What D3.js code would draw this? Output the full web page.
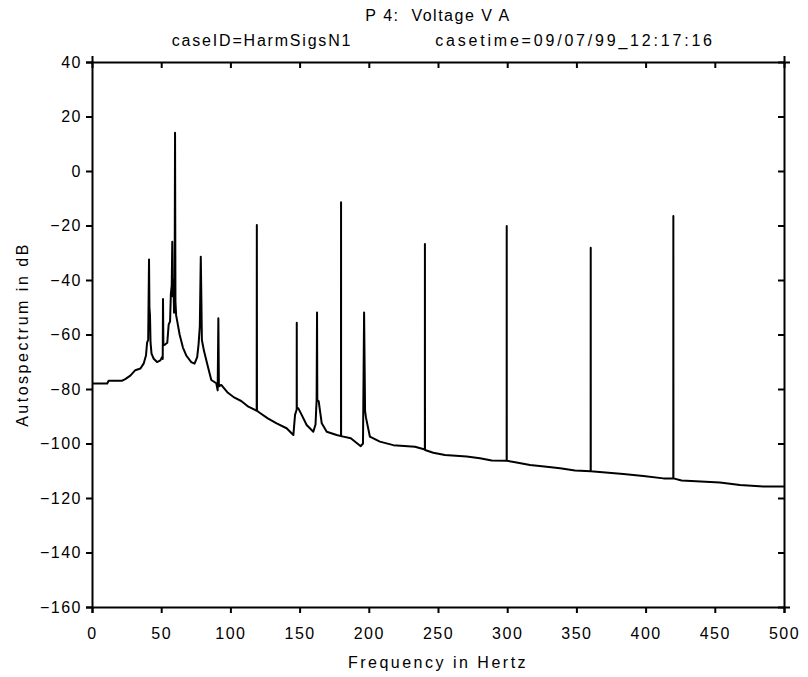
<!DOCTYPE html>
<html>
<head>
<meta charset="utf-8">
<script src="https://cdn.jsdelivr.net/npm/d3@7/dist/d3.min.js"></script>
<style>
  html, body { margin: 0; padding: 0; background: #fff; }
  svg { display: block; }
  text { font-family: "Liberation Sans", Arial, sans-serif; fill: #000; }
</style>
</head>
<body>
<svg id="chart" width="808" height="677"></svg>
<script>
// ---- data ----
const titleText = "P 4:  Voltage V A";
const caseIdText = "caseID=HarmSigsN1";
const caseTimeText = "casetime=09/07/99_12:17:16";
const xLabelText = "Frequency in Hertz";
const yLabelText = "Autospectrum in dB";

const xTicks = [0, 50, 100, 150, 200, 250, 300, 350, 400, 450, 500];
const yTicks = [40, 20, 0, -20, -40, -60, -80, -100, -120, -140, -160];

// frequency (Hz) and autospectrum (dB) of the traced curve
const freqHz = [
  0, 11, 12, 21.5, 24, 27.7, 31.3, 35, 37.3, 39, 39.8, 40.6, 41.2, 41.5, 41.9, 42.3, 43, 44.6, 47, 49.4,
  50.6, 51.1, 51.3, 51.6, 53, 54.4, 55.4, 56.4, 57, 57.6, 58, 58.3, 58.8, 59.3, 59.7, 60, 60.3, 60.8,
  61.6, 63.3, 65.7, 68.1, 71.7, 74.1, 76, 77, 77.9, 78.6, 79, 79.4, 80.9, 83.8, 86.2, 89.8, 90.8, 91.3,
  91.7, 93.4, 98.2, 103, 107.8, 113, 119, 119.1, 119.2, 121.4, 127, 133.4, 140.6, 145.5, 146.7, 147.9,
  147.95, 148.0, 149.1, 151.5, 155.1, 159.9, 161.5, 162.3, 162.6, 162.8, 163.8, 166, 169.6, 176.8,
  179.9, 179.95, 180.0, 187, 194.2, 195.8, 196.6, 197.3, 198, 200.8, 208, 217.7, 233.4, 240.5, 240.55,
  240.6, 246.6, 255, 270.7, 280.3, 288.8, 299.6, 299.65, 299.7, 306.8, 316.5, 328.5, 338.2, 349, 360.3,
  360.35, 360.4, 383.9, 398.4, 412.9, 420, 420.05, 420.1, 426, 453.7, 468.2, 485, 500
];
const spectrumDb = [
  -78, -78, -77, -77, -76.4, -75.1, -73.1, -72.5, -70.7, -67.7, -63, -62, -32.5, -50, -53, -63, -67, -68.9, -70.1, -69.5,
  -68.3, -69, -47, -64, -63.6, -63, -56.4, -55.2, -45, -42, -26, -46, -40, -52, -44, 14, -48, -53,
  -55.2, -60, -64.8, -67.7, -70.1, -70.7, -68.3, -63.6, -57, -31.5, -46, -62, -66, -71.9, -76.7, -77.9, -80.5, -54,
  -79, -78.5, -81.4, -83.2, -84.4, -86.5, -88, -19.8, -88, -88.8, -90.8, -92.6, -94.4, -96.9, -89.5, -87.5,
  -55.7, -87, -87.1, -89.5, -93.2, -95.7, -93, -84, -51.9, -84, -84.5, -92.6, -95.7, -96.9,
  -97.3, -11.5, -97.3, -98.1, -101, -100, -51.9, -88, -90.6, -97.5, -99.3, -100.6, -101.2, -102.2, -26.8,
  -102.4, -103.4, -104.2, -104.8, -105.4, -106.2, -106.3, -20.2, -106.3, -107, -107.9, -108.5, -109.1, -109.9, -110.2,
  -28.2, -110.2, -111.2, -111.9, -112.8, -112.8, -16.5, -112.8, -113.6, -114.3, -115.2, -115.8, -115.8
];

// ---- layout ----
const W = 808, H = 677;
const margin = { left: 92, right: 24, top: 62, bottom: 70 };
const iw = W - margin.left - margin.right;
const ih = H - margin.top - margin.bottom;

const svg = d3.select("#chart");
const g = svg.append("g").attr("transform", `translate(${margin.left},${margin.top})`);

const x = d3.scaleLinear().domain([0, 500]).range([0, iw]);
const y = d3.scaleLinear().domain([-160, 40]).range([ih, 0]);

const points = freqHz.map((f, i) => [f, spectrumDb[i]]);

const line = d3.line().x(d => x(d[0])).y(d => y(d[1]));

g.append("path")
  .datum(points)
  .attr("fill", "none")
  .attr("stroke", "#000")
  .attr("stroke-width", 2)
  .attr("stroke-linejoin", "round")
  .attr("d", line);

// axes
function styleAxis(sel) {
  sel.selectAll("path, line").attr("stroke", "#000").attr("stroke-width", 2);
  sel.selectAll("text")
    .style("font-size", "16px")
    .style("letter-spacing", "1.5px")
    .attr("fill", "#000");
}

g.append("g")
  .attr("transform", `translate(0,${ih})`)
  .call(d3.axisBottom(x).tickValues(xTicks).tickSizeInner(6).tickSizeOuter(6).tickPadding(12).tickFormat(d3.format("d")))
  .call(styleAxis)
  .call(s => s.selectAll("text").attr("dy", "0.9em"));

g.append("g")
  .call(d3.axisLeft(y).tickValues(yTicks).tickSizeInner(6).tickSizeOuter(6).tickPadding(4).tickFormat(d3.format("d")))
  .call(styleAxis);

g.append("g")
  .call(d3.axisTop(x).tickValues(xTicks).tickSizeInner(-6).tickSizeOuter(6).tickFormat(""))
  .call(styleAxis);

g.append("g")
  .attr("transform", `translate(${iw},0)`)
  .call(d3.axisRight(y).tickValues(yTicks).tickSizeInner(-6).tickSizeOuter(6).tickFormat(""))
  .call(styleAxis);

// titles
const cx = margin.left + iw / 2;
svg.append("text")
  .attr("x", cx).attr("y", 21)
  .attr("text-anchor", "middle")
  .style("font-size", "16px").style("letter-spacing", "1.5px")
  .style("white-space", "pre")
  .text(titleText);

svg.append("text")
  .attr("x", 262).attr("y", 46)
  .attr("text-anchor", "middle")
  .style("font-size", "16px").style("letter-spacing", "1.8px")
  .text(caseIdText);

svg.append("text")
  .attr("x", 575).attr("y", 46)
  .attr("text-anchor", "middle")
  .style("font-size", "16px").style("letter-spacing", "2.8px")
  .text(caseTimeText);

svg.append("text")
  .attr("x", cx).attr("y", 668)
  .attr("text-anchor", "middle")
  .style("font-size", "16px").style("letter-spacing", "2.5px")
  .text(xLabelText);

svg.append("text")
  .attr("transform", `translate(28,${margin.top + ih / 2}) rotate(-90)`)
  .attr("text-anchor", "middle")
  .style("font-size", "16px").style("letter-spacing", "2.5px")
  .text(yLabelText);
</script>
</body>
</html>
